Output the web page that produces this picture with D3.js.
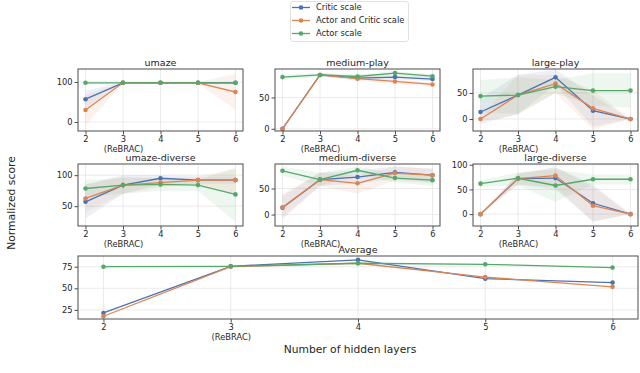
<!DOCTYPE html>
<html><head><meta charset="utf-8">
<script src="https://cdn.jsdelivr.net/npm/d3@7"></script>
<style>body{margin:0;background:#fff}svg{display:block;font-family:"DejaVu Sans",sans-serif}</style>
</head><body><svg id="c" width="640" height="373"></svg>
<script>
const layers = [2,3,4,5,6];
const layerLabels = ["2","3","4","5","6"];
const rebracLabel = "(ReBRAC)";
const tasks = ["umaze","medium-play","large-play","umaze-diverse","medium-diverse","large-diverse","Average"];
const seriesNames = ["Critic scale","Actor and Critic scale","Actor scale"];
const yTicks = [[0,100],[0,50],[0,50],[50,100],[0,50],[0,50,100],[25,50,75]];

// means per task
const criticMean = [
  [57,98,98,98,98],[0,86,81,82.6,79.4],[13.5,46,80,16,0],
  [57,84,95,92,92],[13,67,72,81,75.5],[0,72,73,22,0],[21.5,75.5,83,61.2,56.6]];
const bothMean = [
  [30,98,98,98,75],[0,86,80,75.6,70.8],[0,46,68,20.5,0],
  [62.4,84,88,92,92],[14,67,60,79.5,75.5],[0,72,78,17,0],[17.7,75,79,63,51.7]];
const actorMean = [
  [98,98,98,98,98],[82.6,86,83.5,89,84],[44,46,62,54.5,54.5],
  [78.5,84,85,84,69],[84,67,85,70,66],[61.7,72.6,58,70.6,70.6],[75,75.5,79,77.8,74]];
// band lower / upper
const criticLo = [[35,96,96,96,96],[0,84,78,79,76],[-10,10,65,-15,0],[30,70,85,86,86],[-5,55,60,68,62],[0,60,50,-15,0],null];
const criticHi = [[78,100,100,100,100],[0,89,84,86,83],[40,85,95,45,0],[85,100,100,98,98],[35,80,85,92,88],[0,82,95,60,0],null];
const bothLo = [[-8,96,96,96,30],[0,84,77,72,67],[-5,8,50,-20,0],[40,70,80,86,70],[-10,55,40,65,60],[0,60,55,-15,0],null];
const bothHi = [[68,100,100,100,120],[0,89,83,79,74],[5,85,85,55,0],[85,98,95,98,110],[40,80,75,92,88],[0,82,95,55,0],null];
const actorLo = [[97,97,97,97,97],[79,83,80,86,81],[12,10,50,25,22],[65,70,75,75,25],[75,55,78,62,55],[55,58,25,60,60],null];
const actorHi = [[99,99,99,99,99],[86,89,87,92,87],[75,80,75,88,88],[92,95,95,92,112],[92,80,92,78,78],[68,85,90,80,80],null];

const colors = ["#4c72b0","#dd8452","#55a868"];
const means = [criticMean, bothMean, actorMean];
const los = [criticLo, bothLo, actorLo];
const his = [criticHi, bothHi, actorHi];

// layout
const panels = [
  {l:78,r:243,t:69,b:131,yd:[-22.5,132.5]},
  {l:275,r:440,t:69,b:131,yd:[-3.5,95.5]},
  {l:473,r:638,t:69,b:131,yd:[-23,96]},
  {l:78,r:243,t:164,b:226,yd:[18,118]},
  {l:275,r:440,t:164,b:226,yd:[-22,97]},
  {l:473,r:638,t:164,b:226,yd:[-24,101.5]},
  {l:78,r:638,t:256,b:319,yd:[14.5,87.4]}
];

const svg = d3.select("#c");
const txt = "#262626";

panels.forEach((p,i)=>{
  const x = d3.scaleLinear().domain([1.8,6.2]).range([p.l,p.r]);
  const y = d3.scaleLinear().domain(p.yd).range([p.b,p.t]);
  const g = svg.append("g");
  g.selectAll(".vg").data(layers).join("line")
    .attr("x1",d=>x(d)).attr("x2",d=>x(d)).attr("y1",p.t).attr("y2",p.b)
    .attr("stroke","#e6e6e6").attr("stroke-width",0.8);
  g.selectAll(".hg").data(yTicks[i]).join("line")
    .attr("y1",d=>y(d)).attr("y2",d=>y(d)).attr("x1",p.l).attr("x2",p.r)
    .attr("stroke","#e6e6e6").attr("stroke-width",0.8);
  for(let s=0;s<3;s++){
    if(!los[s][i]) continue;
    const area = d3.area().x((d,k)=>x(layers[k])).y0((d,k)=>y(los[s][i][k])).y1((d,k)=>y(his[s][i][k]));
    g.append("path").datum(layers).attr("d",area).attr("fill",colors[s]).attr("fill-opacity",0.1);
  }
  for(let s=0;s<3;s++){
    const line = d3.line().x((d,k)=>x(layers[k])).y(d=>y(d));
    g.append("path").datum(means[s][i]).attr("d",line).attr("fill","none")
      .attr("stroke",colors[s]).attr("stroke-width",1.3);
    g.selectAll(".m"+s).data(means[s][i]).join("circle")
      .attr("cx",(d,k)=>x(layers[k])).attr("cy",d=>y(d)).attr("r",2.3).attr("fill",colors[s]);
  }
  g.append("rect").attr("x",p.l).attr("y",p.t).attr("width",p.r-p.l).attr("height",p.b-p.t)
    .attr("fill","none").attr("stroke","#4d4d4d").attr("stroke-width",1);
  const xa = d3.axisBottom(x).tickValues(layers).tickFormat((d,k)=>layerLabels[k]).tickSize(3.5).tickPadding(2);
  const xg = g.append("g").attr("transform",`translate(0,${p.b})`).call(xa);
  xg.select(".domain").remove();
  xg.selectAll("line").attr("stroke","#4d4d4d");
  xg.selectAll("text").attr("font-size",8.3).attr("fill",txt).attr("font-family","DejaVu Sans");
  xg.selectAll(".tick").filter(d=>d===3).append("text").text(rebracLabel)
    .attr("y", 14.8).attr("dy","0.71em").attr("font-size",8.3).attr("fill",txt)
    .attr("text-anchor","middle").attr("font-family","DejaVu Sans");
  const ya = d3.axisLeft(y).tickValues(yTicks[i]).tickSize(3.5).tickPadding(2);
  const yg = g.append("g").attr("transform",`translate(${p.l},0)`).call(ya);
  yg.select(".domain").remove();
  yg.selectAll("line").attr("stroke","#4d4d4d");
  yg.selectAll("text").attr("font-size",8.3).attr("fill",txt).attr("font-family","DejaVu Sans");
  g.append("text").attr("x",(p.l+p.r)/2).attr("y",p.t-3).attr("text-anchor","middle")
    .attr("font-size",9.5).attr("fill",txt).text(tasks[i]);
});

svg.append("text").attr("x",350).attr("y",353).attr("text-anchor","middle")
  .attr("font-size",10.7).attr("fill",txt).text("Number of hidden layers");
svg.append("text").attr("transform","translate(15,203) rotate(-90)").attr("text-anchor","middle")
  .attr("font-size",10.8).attr("fill",txt).text("Normalized score");

const lg = svg.append("g");
lg.append("rect").attr("x",290.5).attr("y",1.5).attr("width",118).attr("height",40).attr("rx",2.5)
  .attr("fill","#fff").attr("stroke","#d9d9d9").attr("stroke-width",0.8);
seriesNames.forEach((n,s)=>{
  const yy = 7.5 + s*13;
  lg.append("line").attr("x1",292).attr("x2",310).attr("y1",yy).attr("y2",yy).attr("stroke",colors[s]).attr("stroke-width",1.3);
  lg.append("circle").attr("cx",301).attr("cy",yy).attr("r",2.3).attr("fill",colors[s]);
  lg.append("text").attr("x",316).attr("y",yy).attr("dy","0.35em").attr("font-size",8.3).attr("fill",txt).text(n);
});
</script></body></html>
